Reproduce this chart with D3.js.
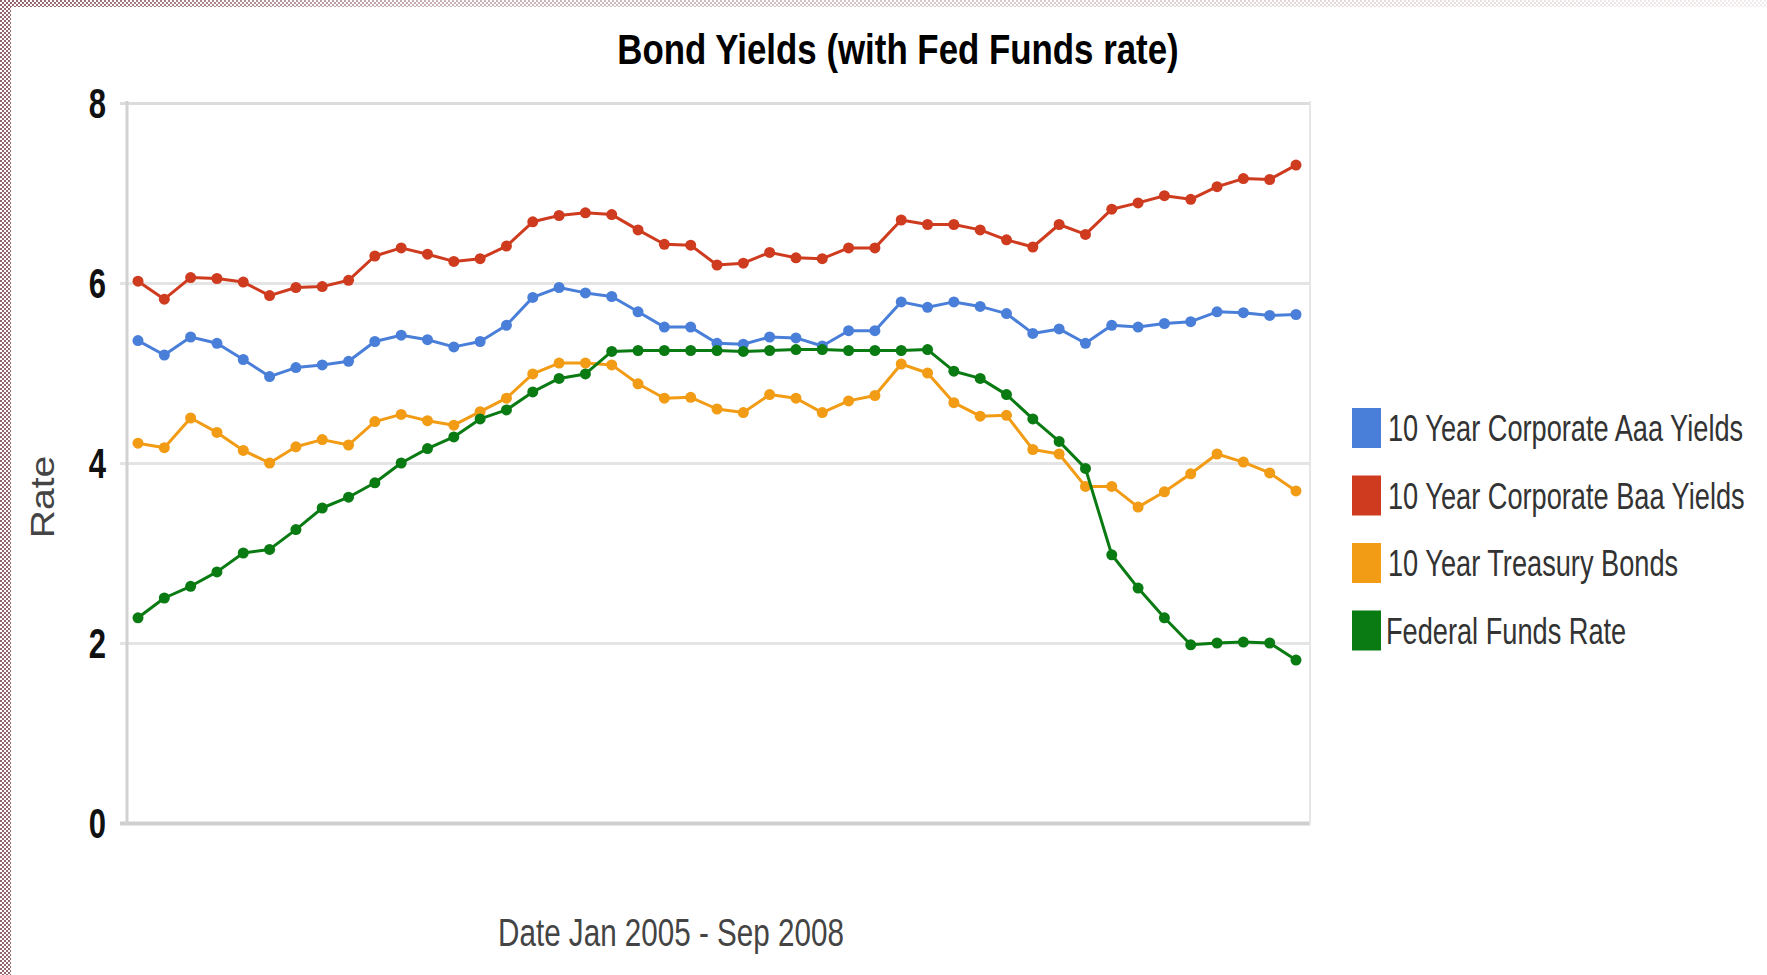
<!DOCTYPE html>
<html>
<head>
<meta charset="utf-8">
<script src="https://cdn.jsdelivr.net/npm/d3@7"></script>
<style>
  html, body { margin: 0; padding: 0; background: #fff; }
  svg { display: block; font-family: "Liberation Sans", Arial, sans-serif; }
</style>
</head>
<body>
<svg id="chart"></svg>
<script>
// monthly observations, Jan 2005 - Sep 2008
const months = [
  "Jan 2005","Feb 2005","Mar 2005","Apr 2005","May 2005","Jun 2005","Jul 2005","Aug 2005","Sep 2005","Oct 2005","Nov 2005","Dec 2005",
  "Jan 2006","Feb 2006","Mar 2006","Apr 2006","May 2006","Jun 2006","Jul 2006","Aug 2006","Sep 2006","Oct 2006","Nov 2006","Dec 2006",
  "Jan 2007","Feb 2007","Mar 2007","Apr 2007","May 2007","Jun 2007","Jul 2007","Aug 2007","Sep 2007","Oct 2007","Nov 2007","Dec 2007",
  "Jan 2008","Feb 2008","Mar 2008","Apr 2008","May 2008","Jun 2008","Jul 2008","Aug 2008","Sep 2008"
];

const aaaYields = [
  5.36, 5.20, 5.40, 5.33, 5.15, 4.96, 5.06, 5.09, 5.13, 5.35, 5.42, 5.37,
  5.29, 5.35, 5.53, 5.84, 5.95, 5.89, 5.85, 5.68, 5.51, 5.51, 5.33, 5.32,
  5.40, 5.39, 5.30, 5.47, 5.47, 5.79, 5.73, 5.79, 5.74, 5.66, 5.44, 5.49,
  5.33, 5.53, 5.51, 5.55, 5.57, 5.68, 5.67, 5.64, 5.65
];

const baaYields = [
  6.02, 5.82, 6.06, 6.05, 6.01, 5.86, 5.95, 5.96, 6.03, 6.30, 6.39, 6.32,
  6.24, 6.27, 6.41, 6.68, 6.75, 6.78, 6.76, 6.59, 6.43, 6.42, 6.20, 6.22,
  6.34, 6.28, 6.27, 6.39, 6.39, 6.70, 6.65, 6.65, 6.59, 6.48, 6.40, 6.65,
  6.54, 6.82, 6.89, 6.97, 6.93, 7.07, 7.16, 7.15, 7.31
];

const treasury = [
  4.22, 4.17, 4.50, 4.34, 4.14, 4.00, 4.18, 4.26, 4.20, 4.46, 4.54, 4.47,
  4.42, 4.57, 4.72, 4.99, 5.11, 5.11, 5.09, 4.88, 4.72, 4.73, 4.60, 4.56,
  4.76, 4.72, 4.56, 4.69, 4.75, 5.10, 5.00, 4.67, 4.52, 4.53, 4.15, 4.10,
  3.74, 3.74, 3.51, 3.68, 3.88, 4.10, 4.01, 3.89, 3.69
];

const fedFunds = [
  2.28, 2.50, 2.63, 2.79, 3.00, 3.04, 3.26, 3.50, 3.62, 3.78, 4.00, 4.16,
  4.29, 4.49, 4.59, 4.79, 4.94, 4.99, 5.24, 5.25, 5.25, 5.25, 5.25, 5.24,
  5.25, 5.26, 5.26, 5.25, 5.25, 5.25, 5.26, 5.02, 4.94, 4.76, 4.49, 4.24,
  3.94, 2.98, 2.61, 2.28, 1.98, 2.00, 2.01, 2.00, 1.81
];

const seriesNames = [
  "10 Year Corporate Aaa Yields",
  "10 Year Corporate Baa Yields",
  "10 Year Treasury Bonds",
  "Federal Funds Rate"
];
const seriesColors = ["#4a7fd9", "#cf3b1f", "#f29b14", "#0a7a12"];
const yTicks = [0, 2, 4, 6, 8];

const series = [aaaYields, baaYields, treasury, fedFunds].map((values, k) => ({
  name: seriesNames[k],
  color: seriesColors[k],
  values: values.map((v, i) => ({ month: months[i], value: v }))
}));

const W = 1767, H = 975;
const plot = { left: 127, right: 1310, top: 103, bottom: 823 };

const svg = d3.select("#chart").attr("width", W).attr("height", H);

// screenshot border artefact (checkered strip on left and top)
const defs = svg.append("defs");
const pat = defs.append("pattern")
  .attr("id", "checker")
  .attr("width", 4).attr("height", 4)
  .attr("patternUnits", "userSpaceOnUse");
pat.append("rect").attr("width", 4).attr("height", 4).attr("fill", "#fff");
pat.append("rect").attr("width", 2).attr("height", 2).attr("fill", "#94656d");
pat.append("rect").attr("x", 2).attr("y", 2).attr("width", 2).attr("height", 2).attr("fill", "#94656d");
const fade = defs.append("linearGradient").attr("id", "fade")
  .attr("x1", "0%").attr("x2", "100%");
fade.append("stop").attr("offset", "0%").attr("stop-color", "#fff").attr("stop-opacity", 0);
fade.append("stop").attr("offset", "25%").attr("stop-color", "#fff").attr("stop-opacity", 0.5);
fade.append("stop").attr("offset", "100%").attr("stop-color", "#fff").attr("stop-opacity", 0.88);

svg.append("rect").attr("x", 0).attr("y", 0).attr("width", W).attr("height", 7).attr("fill", "url(#checker)");
svg.append("rect").attr("x", 0).attr("y", 0).attr("width", W).attr("height", 7).attr("fill", "url(#fade)");
svg.append("rect").attr("x", 0).attr("y", 0).attr("width", 11).attr("height", H).attr("fill", "url(#checker)");

// scales
const x = d3.scalePoint()
  .domain(months)
  .range([138, 1296]);

const y = d3.scaleLinear()
  .domain([0, 8])
  .range([plot.bottom, plot.top]);

// grid + y axis
const yAxis = d3.axisLeft(y)
  .tickValues(yTicks)
  .tickSize(-(plot.right - plot.left + 7))
  .tickFormat(d3.format("d"));

const gy = svg.append("g")
  .attr("transform", `translate(${plot.left - 7},0)`)
  .call(yAxis);
gy.select(".domain").remove();
gy.selectAll(".tick line")
  .attr("stroke", d => d === 0 ? "#cfcfcf" : (d === 8 ? "#dcdcdc" : "#e4e4e4"))
  .attr("stroke-width", d => d === 0 ? 4 : 3);
gy.selectAll(".tick text")
  .attr("x", 0)
  .attr("dy", null)
  .attr("dominant-baseline", "central")
  .attr("transform", "translate(-14,0) scale(0.74,1)")
  .attr("fill", "#111")
  .attr("font-weight", "bold")
  .style("font-size", "42px");

// left axis and right border
svg.append("line")
  .attr("x1", plot.left).attr("x2", plot.left)
  .attr("y1", plot.top - 2).attr("y2", plot.bottom + 2)
  .attr("stroke", "#d2d2d2").attr("stroke-width", 3);
svg.append("line")
  .attr("x1", plot.right).attr("x2", plot.right)
  .attr("y1", plot.top - 2).attr("y2", plot.bottom + 2)
  .attr("stroke", "#e6e6e6").attr("stroke-width", 2);

// lines and markers
const line = d3.line()
  .x(d => x(d.month))
  .y(d => y(d.value));

const sg = svg.selectAll(".series")
  .data(series)
  .join("g")
  .attr("class", "series");

sg.append("path")
  .attr("d", d => line(d.values))
  .attr("fill", "none")
  .attr("stroke", d => d.color)
  .attr("stroke-width", 3)
  .attr("stroke-linejoin", "round");

sg.selectAll("circle")
  .data(d => d.values.map(v => ({ ...v, color: d.color })))
  .join("circle")
  .attr("cx", d => x(d.month))
  .attr("cy", d => y(d.value))
  .attr("r", 5.5)
  .attr("fill", d => d.color);

// title
svg.append("text")
  .attr("transform", "translate(898,64) scale(0.83,1)")
  .attr("text-anchor", "middle")
  .attr("font-weight", "bold")
  .attr("fill", "#000")
  .style("font-size", "42px")
  .text("Bond Yields (with Fed Funds rate)");

// axis titles
svg.append("text")
  .attr("transform", "translate(54,497) scale(0.86,1) rotate(-90)")
  .attr("text-anchor", "middle")
  .attr("fill", "#444")
  .style("font-size", "39px")
  .text("Rate");

svg.append("text")
  .attr("transform", "translate(671,946) scale(0.76,1)")
  .attr("text-anchor", "middle")
  .attr("fill", "#444")
  .style("font-size", "39px")
  .text("Date Jan 2005 - Sep 2008");

// legend
const legend = svg.append("g")
  .selectAll("g")
  .data(series)
  .join("g")
  .attr("transform", (d, i) => `translate(1352,${428 + i * 67.5})`);

legend.append("rect")
  .attr("x", 0).attr("y", -20)
  .attr("width", 29).attr("height", 40)
  .attr("fill", d => d.color);

legend.append("text")
  .attr("transform", (d, i) => `translate(${i === 3 ? 34 : 36},13) scale(0.735,1)`)
  .attr("fill", "#333")
  .style("font-size", "37px")
  .text(d => d.name);
</script>
</body>
</html>
